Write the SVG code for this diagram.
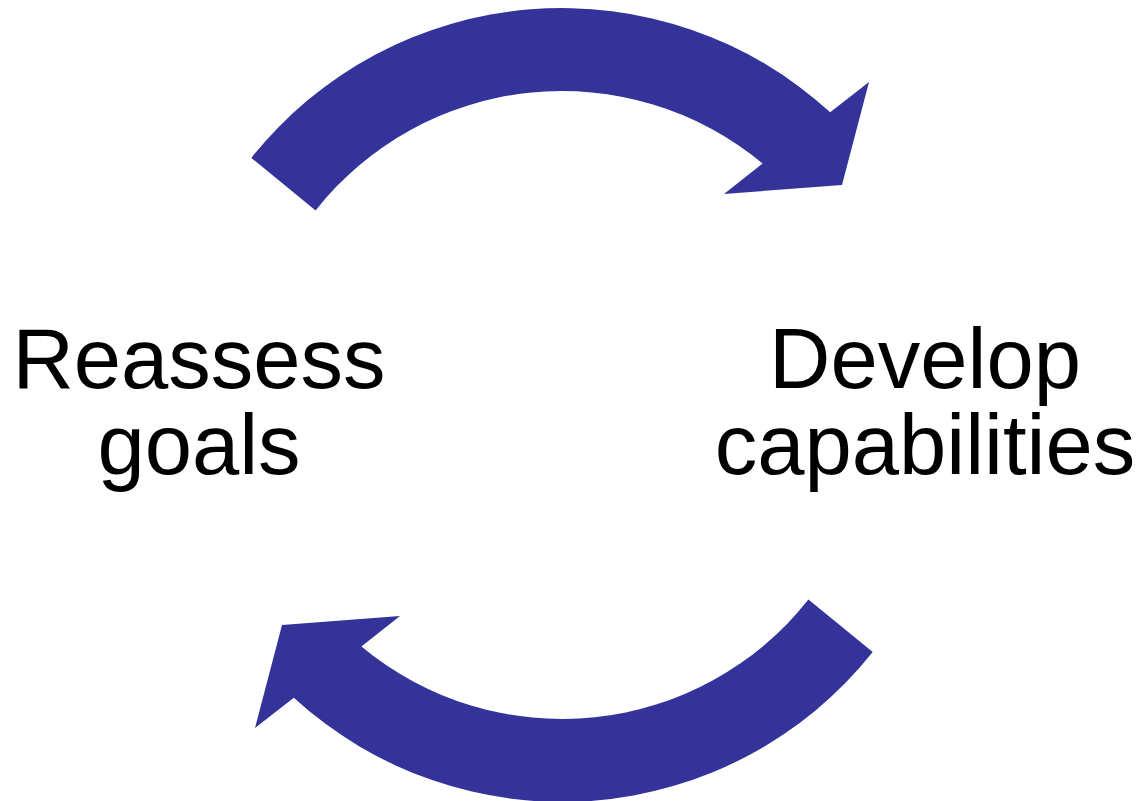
<svg xmlns="http://www.w3.org/2000/svg" width="1140" height="801" viewBox="0 0 1140 801">
<style>
.arrow{fill:#333399;stroke:none}
.label{font-family:"Liberation Sans",Arial,sans-serif;font-size:85px;fill:#000;text-anchor:middle}
</style>
<defs>
<path id="curved" d="M 251.3,157.9 A 397 397 0 0 1 830.2,112.3 L 869,82 L 842,185 L 724,194 L 762.6,163.4 A 314 314 0 0 0 315.6,210.4 Z"/>
</defs>
<rect width="1140" height="801" fill="#fff"/>
<g id="connectors">
<use href="#curved" class="arrow"/>
<use href="#curved" class="arrow" transform="rotate(180 562 405)"/>
</g>
<g id="node-reassess">
<text class="label" x="199" y="388">Reassess</text>
<text class="label" x="199" y="474">goals</text>
</g>
<g id="node-develop">
<text class="label" x="925" y="388">Develop</text>
<text class="label" x="925" y="474">capabilities</text>
</g>
</svg>
